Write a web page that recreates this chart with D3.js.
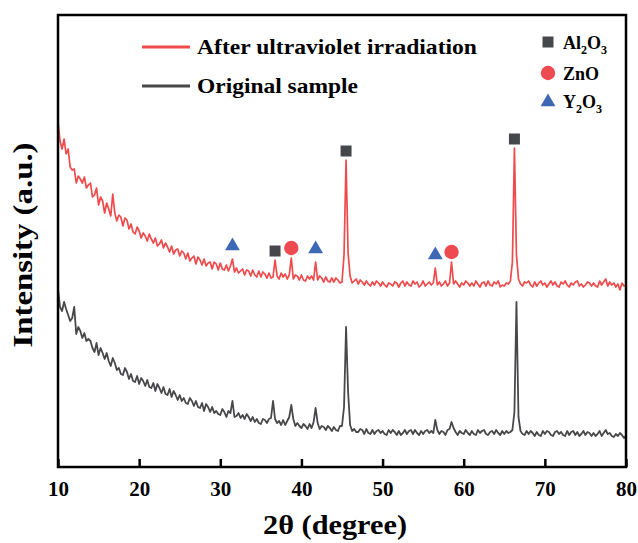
<!DOCTYPE html>
<html>
<head>
<meta charset="utf-8">
<script src="https://cdn.jsdelivr.net/npm/d3@7"></script>
<style>
  html, body { margin: 0; padding: 0; background: #fff; }
  svg { display: block; }
  text { font-family: "Liberation Serif", "Times New Roman", serif; font-weight: bold; fill: #000; }
</style>
</head>
<body>
<svg id="chart" width="638" height="543"></svg>
<script>
// ---- data ----
const thetaStart = 10, thetaStep = 0.25;   // sampling grid of 2θ (degree)
const xTicks = [10, 20, 30, 40, 50, 60, 70, 80];
const seriesNames = ["After ultraviolet irradiation", "Original sample"];

// After ultraviolet irradiation (a.u.), one row per degree: θ, θ+.25, θ+.5, θ+.75
const irradiated = [
  345, 326, 318, 328,  // 10
  313, 318, 300, 297,  // 11
  298, 284, 291, 288,  // 12
  284, 290, 279, 282,  // 13
  284, 270, 272, 279,  // 14
  262, 270, 266, 254,  // 15
  264, 258, 251, 273,  // 16
  254, 246, 252, 250,  // 17
  241, 249, 247, 238,  // 18
  243, 235, 233, 240,  // 19
  236, 229, 234, 231,  // 20
  226, 233, 228, 224,  // 21
  229, 221, 223, 227,  // 22
  219, 224, 220, 215,  // 23
  221, 213, 217, 218,  // 24
  211, 216, 214, 208,  // 25
  214, 206, 209, 211,  // 26
  203, 210, 207, 202,  // 27
  208, 201, 204, 205,  // 28
  198, 205, 203, 197,  // 29
  204, 198, 197, 202,  // 30
  196, 201, 208, 195,  // 31
  199, 194, 196, 198,  // 32
  192, 197, 196, 191,  // 33
  197, 192, 190, 196,  // 34
  190, 195, 193, 189,  // 35
  194, 189, 190, 207,  // 36
  191, 188, 194, 190,  // 37
  193, 188, 192, 209,  // 38
  188, 192, 191, 187,  // 39
  192, 187, 186, 191,  // 40
  188, 191, 187, 205,  // 41
  187, 191, 189, 185,  // 42
  190, 186, 185, 189,  // 43
  185, 189, 187, 184,  // 44
  185, 212, 307, 214,  // 45
  191, 184, 186, 188,  // 46
  183, 187, 185, 182,  // 47
  186, 183, 181, 185,  // 48
  182, 186, 184, 181,  // 49
  185, 182, 180, 184,  // 50
  183, 181, 185, 184,  // 51
  180, 184, 186, 181,  // 52
  185, 182, 181, 186,  // 53
  183, 185, 180, 182,  // 54
  186, 181, 183, 185,  // 55
  182, 184, 199, 182,  // 56
  185, 181, 183, 186,  // 57
  181, 184, 205, 183,  // 58
  186, 183, 180, 184,  // 59
  182, 186, 184, 181,  // 60
  184, 181, 186, 183,  // 61
  180, 184, 185, 181,  // 62
  186, 182, 181, 185,  // 63
  183, 186, 180, 182,  // 64
  181, 184, 183, 186,  // 65
  205, 319, 212, 188,  // 66
  183, 181, 185, 184,  // 67
  186, 182, 180, 185,  // 68
  181, 184, 186, 182,  // 69
  184, 180, 183, 186,  // 70
  182, 185, 181, 180,  // 71
  185, 183, 186, 182,  // 72
  180, 184, 182, 185,  // 73
  186, 181, 183, 180,  // 74
  182, 185, 184, 181,  // 75
  184, 181, 180, 186,  // 76
  182, 185, 188, 181,  // 77
  185, 182, 184, 180,  // 78
  183, 177, 184, 181,  // 79
  182                  // 80
];

// Original sample (a.u.)
const original = [
  178, 160, 156, 165,  // 10
  158, 152, 146, 149,  // 11
  160, 133, 140, 136,  // 12
  129, 134, 126, 128,  // 13
  126, 119, 115, 124,  // 14
  112, 119, 114, 108,  // 15
  114, 106, 101, 109,  // 16
  104,  97,  99,  93,  // 17
   92,  99,  95,  88,  // 18
   93,  86,  85,  91,  // 19
   83,  89,  86,  81,  // 20
   87,  80,  79,  84,  // 21
   76,  83,  79,  74,  // 22
   80,  73,  72,  78,  // 23
   70,  76,  72,  67,  // 24
   72,  66,  69,  64,  // 25
   63,  69,  66,  61,  // 26
   66,  60,  59,  64,  // 27
   56,  63,  60,  55,  // 28
   60,  54,  56,  53,  // 29
   52,  58,  55,  50,  // 30
   56,  54,  66,  50,  // 31
   51,  54,  49,  52,  // 32
   48,  53,  50,  46,  // 33
   50,  45,  48,  44,  // 34
   43,  48,  47,  44,  // 35
   48,  49,  66,  48,  // 36
   44,  46,  42,  47,  // 37
   42,  46,  50,  62,  // 38
   48,  41,  44,  41,  // 39
   39,  43,  41,  38,  // 40
   43,  39,  45,  59,  // 41
   44,  38,  41,  40,  // 42
   37,  41,  39,  36,  // 43
   40,  37,  36,  41,  // 44
   41,  60, 140,  75,  // 45
   42,  36,  38,  35,  // 46
   35,  38,  37,  33,  // 47
   38,  34,  33,  37,  // 48
   33,  36,  37,  34,  // 49
   36,  33,  32,  37,  // 50
   34,  37,  35,  32,  // 51
   36,  32,  34,  37,  // 52
   33,  36,  37,  33,  // 53
   37,  34,  32,  36,  // 54
   33,  36,  37,  34,  // 55
   36,  34,  47,  37,  // 56
   33,  36,  35,  32,  // 57
   37,  38,  45,  39,  // 58
   35,  32,  36,  34,  // 59
   33,  37,  34,  32,  // 60
   36,  33,  32,  37,  // 61
   34,  36,  37,  33,  // 62
   32,  35,  36,  33,  // 63
   37,  34,  32,  36,  // 64
   33,  36,  34,  35,  // 65
   37,  55, 165,  50,  // 66
   36,  33,  32,  36,  // 67
   33,  36,  34,  31,  // 68
   35,  32,  31,  36,  // 69
   33,  36,  35,  32,  // 70
   31,  35,  36,  33,  // 71
   35,  32,  31,  36,  // 72
   32,  35,  36,  32,  // 73
   35,  31,  33,  36,  // 74
   32,  35,  34,  31,  // 75
   34,  31,  33,  36,  // 76
   31,  34,  37,  33,  // 77
   34,  31,  30,  33,  // 78
   31,  34,  32,  29,  // 79
   31                  // 80
];

// Phase markers: 2θ positions of identified peaks (on the irradiated pattern)
const phaseNames = ["Al2O3", "ZnO", "Y2O3"];
const al2o3Peaks = [36.75, 45.5, 66.25];
const znoPeaks   = [38.75, 58.5];
const y2o3Peaks  = [31.5, 41.75, 56.5];

// ---- drawing ----
const svg = d3.select("#chart");
const m = { left: 58, right: 626, top: 15, bottom: 467 };
const x = d3.scaleLinear().domain([10, 80]).range([m.left, m.right]);
const y = d3.scaleLinear().domain([0, 452]).range([m.bottom, m.top]);

const toPoints = arr => arr.map((v, i) => [thetaStart + i * thetaStep, v]);
const line = d3.line().x(d => x(d[0])).y(d => y(d[1]));

const colRed = "#ef4a4c", colDark = "#48484b";
const colSquare = "#46474b", colCircle = "#ee4b50", colTri = "#3d68b5";

svg.append("defs").append("clipPath").attr("id", "clip")
  .append("rect").attr("x", m.left).attr("y", m.top)
  .attr("width", m.right - m.left).attr("height", m.bottom - m.top);

const g = svg.append("g").attr("clip-path", "url(#clip)");
g.append("path").datum(toPoints(original)).attr("d", line)
  .attr("fill", "none").attr("stroke", colDark).attr("stroke-width", 1.8).attr("stroke-linejoin", "round");
g.append("path").datum(toPoints(irradiated)).attr("d", line)
  .attr("fill", "none").attr("stroke", colRed).attr("stroke-width", 1.7).attr("stroke-linejoin", "round");

// markers
const valAt = t => irradiated[Math.round((t - thetaStart) / thetaStep)];
const sq = d3.symbol().type(d3.symbolSquare).size(121);
const ci = d3.symbol().type(d3.symbolCircle).size(Math.PI * 7.2 * 7.2);
const tr = d3.symbol().type(d3.symbolTriangle).size(95);
const mk = svg.append("g");
al2o3Peaks.forEach(t => mk.append("path").attr("d", sq())
  .attr("transform", `translate(${x(t)},${y(valAt(t)) - 9})`).attr("fill", colSquare));
znoPeaks.forEach(t => mk.append("path").attr("d", ci())
  .attr("transform", `translate(${x(t)},${y(valAt(t)) - 10})`).attr("fill", colCircle));
y2o3Peaks.forEach(t => mk.append("path").attr("d", tr())
  .attr("transform", `translate(${x(t)},${y(valAt(t)) - 13})`).attr("fill", colTri));

// frame
svg.append("rect").attr("x", m.left).attr("y", m.top)
  .attr("width", m.right - m.left).attr("height", m.bottom - m.top)
  .attr("fill", "none").attr("stroke", "#000").attr("stroke-width", 2.5);

// x axis
const xAxis = d3.axisBottom(x).tickValues(xTicks).tickSizeInner(-8).tickSizeOuter(0).tickPadding(14);
const ax = svg.append("g").attr("transform", `translate(0,${m.bottom})`).call(xAxis);
ax.select(".domain").remove();
ax.selectAll(".tick line").attr("stroke", "#000").attr("stroke-width", 2.5);
ax.selectAll(".tick text").attr("font-size", 21).attr("font-family", "Liberation Serif").attr("font-weight", "bold").attr("fill", "#000");

// axis titles
svg.append("text").attr("x", 335).attr("y", 534)
  .attr("text-anchor", "middle").attr("font-size", 27)
  .attr("textLength", 144).attr("lengthAdjust", "spacingAndGlyphs").text("2θ (degree)");
svg.append("text").attr("transform", `translate(32,245) rotate(-90)`)
  .attr("text-anchor", "middle").attr("font-size", 27)
  .attr("textLength", 205).attr("lengthAdjust", "spacingAndGlyphs").text("Intensity (a.u.)");

// series legend
const leg = svg.append("g");
[[seriesNames[0], colRed, 47, 280], [seriesNames[1], colDark, 86, 161]].forEach(([name, c, yy, w]) => {
  leg.append("line").attr("x1", 142).attr("x2", 190).attr("y1", yy).attr("y2", yy)
    .attr("stroke", c).attr("stroke-width", 3);
  leg.append("text").attr("x", 197).attr("y", yy + 7).attr("font-size", 21)
    .attr("textLength", w).attr("lengthAdjust", "spacingAndGlyphs").text(name);
});

// phase legend
const pl = svg.append("g");
pl.append("path").attr("d", sq()).attr("transform", "translate(548,42)").attr("fill", colSquare);
pl.append("path").attr("d", ci()).attr("transform", "translate(548,73)").attr("fill", colCircle);
pl.append("path").attr("d", tr()).attr("transform", "translate(548,102)").attr("fill", colTri);
function chem(yy, parts) {
  const t = pl.append("text").attr("x", 563).attr("y", yy).attr("font-size", 18);
  let down = false;
  parts.forEach(([s, sub]) => {
    const dy = sub ? (down ? 0 : 5) : (down ? -5 : 0);
    down = !!sub;
    t.append("tspan").attr("font-size", sub ? 12 : 18).attr("dy", dy).text(s);
  });
}
chem(49, [["Al", 0], ["2", 1], ["O", 0], ["3", 1]]);
chem(80, [["ZnO", 0]]);
chem(108, [["Y", 0], ["2", 1], ["O", 0], ["3", 1]]);
</script>
</body>
</html>
